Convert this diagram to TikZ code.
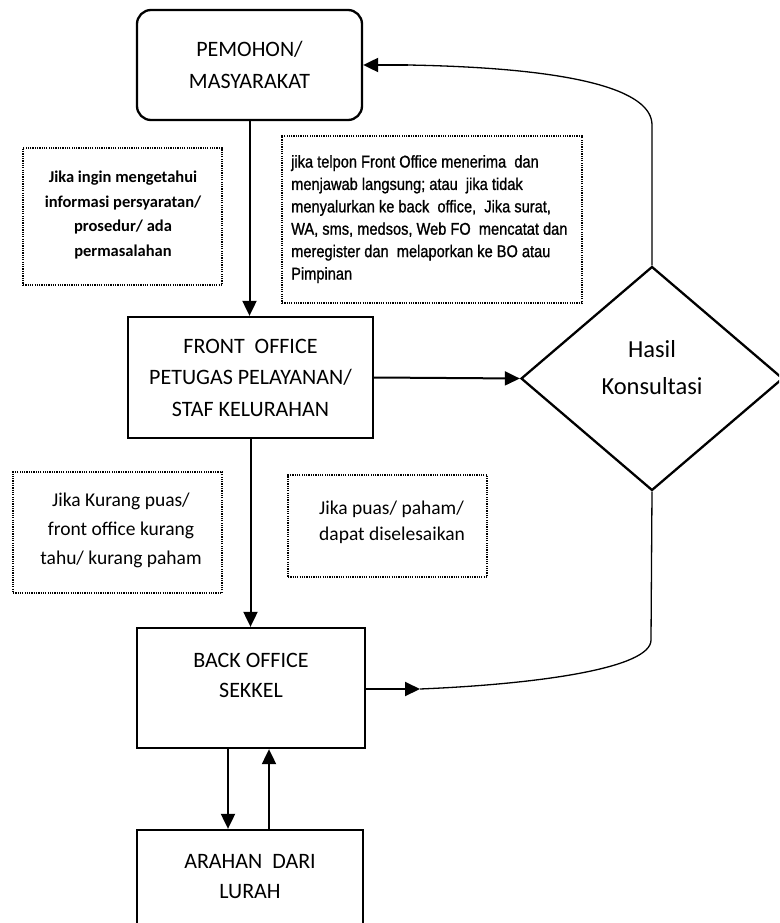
\documentclass[tikz,border=0pt]{standalone}
\usepackage{fontspec}
\setmainfont{Carlito}
\newfontfamily\narrowfont[FakeStretch=0.86,FakeBold=1]{Liberation Sans}
\usetikzlibrary{shapes.geometric,arrows.meta}

\tikzset{
  procbox/.style={draw, line width=2.3pt, inner sep=0pt, align=center,
    font=\fontsize{22}{31.5}\selectfont},
  notebox/.style={draw, line width=1.4pt, dash pattern=on 1.2pt off 1.1pt, inner sep=0pt},
  notetext/.style={inner sep=0pt, align=center},
  flow/.style={line width=2pt, -{Triangle[length=15pt,width=14pt]}},
  loopline/.style={line width=1.3pt},
}

\begin{document}
\begin{tikzpicture}[x=1pt,y=-1pt]
  \useasboundingbox (0,0) rectangle (779,923);
  \clip (0,0) rectangle (779,923);

  % process boxes
  \node[procbox, rounded corners=14pt, minimum width=225pt, minimum height=110pt]
    (pem) at (249.5,65) {PEMOHON/\\MASYARAKAT};
  \node[procbox, minimum width=245pt, minimum height=121pt]
    (fo) at (250.5,377.5) {FRONT\ \ OFFICE\\PETUGAS PELAYANAN/\\STAF KELURAHAN};
  \node[procbox, minimum width=228pt, minimum height=120pt] (bo) at (251,688) {};
  \node[notetext, font=\fontsize{22}{30}\selectfont] (botext) at (251,675) {BACK OFFICE\\SEKKEL};
  \node[procbox, minimum width=226pt, minimum height=120pt] (ar) at (250,890) {};
  \node[notetext, font=\fontsize{22}{30}\selectfont] (artext) at (250,877) {ARAHAN\ \ DARI\\LURAH};

  % decision
  \node[draw, diamond, line width=2.3pt, minimum width=262pt, minimum height=224pt,
    inner sep=0pt] (dia) at (652,378.5) {};
  \node[notetext, font=\fontsize{24.5}{37}\selectfont] (diatext) at (652,368) {Hasil\\Konsultasi};

  % dotted notes
  \node[notebox, minimum width=199pt, minimum height=137pt] (n1) at (122.5,216.5) {};
  \node[notetext, font=\bfseries\fontsize{16.5}{24.5}\selectfont] (n1t) at (123,215)
    {Jika ingin mengetahui\\informasi persyaratan/\\prosedur/ ada\\permasalahan};

  \node[notebox, minimum width=300pt, minimum height=167pt] (n2) at (432,219.5) {};
  \node[inner sep=0pt, anchor=north west, align=left,
    font=\narrowfont\fontsize{17}{22.4}\selectfont] (n2t) at (291,155)
    {jika telpon Front Office menerima\ \ dan\\
     menjawab langsung; atau\ \ jika tidak\\
     menyalurkan ke back\ \ office,\ \ Jika surat,\\
     WA, sms, medsos, Web FO\ \ mencatat dan\\
     meregister dan\ \ melaporkan ke BO atau\\
     Pimpinan};

  \node[notebox, minimum width=209pt, minimum height=121pt] (n3) at (117.5,532.5) {};
  \node[notetext, font=\fontsize{19.5}{29}\selectfont] (n3t) at (121,530)
    {Jika Kurang puas/\\front office kurang\\tahu/ kurang paham};

  \node[notebox, minimum width=199pt, minimum height=102pt] (n4) at (387.5,526) {};
  \node[inner sep=0pt, align=left, anchor=west, font=\fontsize{19.5}{26}\selectfont]
    (n4t) at (319,522) {Jika puas/ paham/\\dapat diselesaikan};

  % main flow
  \draw[flow] (pem.south) -- (pem.south |- fo.north);
  \draw[flow] (fo.east) -- (dia.west);
  \draw[flow] (fo.south) -- (fo.south |- bo.north);
  \draw[flow] ([xshift=-23pt]bo.south) -- ([xshift=-23pt]bo.south |- ar.north);
  \draw[flow] ([xshift=19pt]ar.north) -- ([xshift=19pt]ar.north |- bo.south);

  % return loops
  \coordinate (topbend) at (652,125);
  \coordinate (topend) at (408,65);
  \draw[loopline] (dia.north) -- (topbend)
    .. controls (652,90) and (575,68) .. (topend);
  \draw[flow] (topend) -- (pem.east);

  \coordinate (botstart) at (420,689);
  \coordinate (botbend) at (651,640);
  \draw[flow] (bo.east |- botstart) -- (botstart);
  \draw[loopline] (botstart) .. controls (540,684) and (651,668) .. (botbend) -- (dia.south);
\end{tikzpicture}
\end{document}
